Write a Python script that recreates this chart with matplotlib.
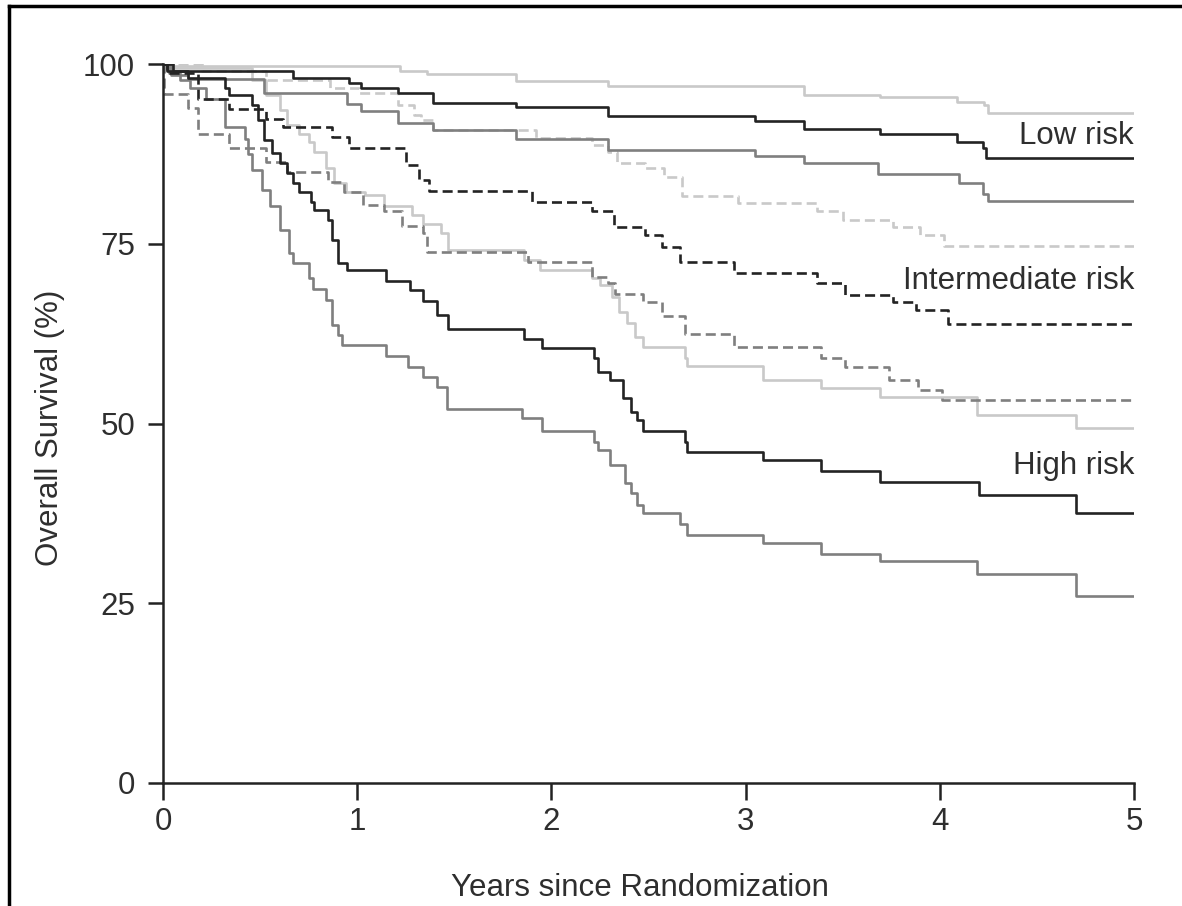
import matplotlib
matplotlib.use('Agg')
import matplotlib.pyplot as plt
from matplotlib.lines import Line2D

plt.rcParams['font.family'] = ['Liberation Sans', 'DejaVu Sans']

# Kaplan-Meier step data (years, % surviving)
low_light_t = [0, 0.03, 1.22, 1.36, 1.82, 2.29, 3.30, 3.69, 4.09, 4.23, 4.25, 5]
low_light_s = [100, 99.7, 99.0, 98.6, 97.7, 96.9, 95.7, 95.4, 94.7, 94.3, 93.2, 93.2]

low_black_t = [0, 0.05, 0.67, 0.96, 1.02, 1.21, 1.39, 1.82, 2.29, 3.05, 3.30, 3.69, 4.09, 4.22, 4.24, 5]
low_black_s = [100, 99.0, 98.0, 97.3, 96.6, 95.9, 94.6, 94.0, 92.8, 92.1, 91.0, 90.2, 89.1, 88.3, 86.9, 86.9]

low_gray_t = [0, 0.04, 0.13, 0.52, 0.95, 1.02, 1.21, 1.39, 1.82, 2.29, 3.05, 3.30, 3.68, 4.10, 4.22, 4.25, 5]
low_gray_s = [100, 98.5, 97.9, 95.9, 94.5, 93.4, 91.8, 90.8, 89.5, 88.1, 87.2, 86.2, 84.7, 83.5, 81.9, 80.9, 80.9]

int_light_t = [0, 0.20, 0.53, 0.86, 1.01, 1.21, 1.29, 1.33, 1.39, 1.92, 2.21, 2.29, 2.34, 2.48,
               2.58, 2.67, 2.96, 3.37, 3.50, 3.76, 3.90, 4.02, 5]
int_light_s = [100, 99.0, 97.8, 96.6, 95.9, 94.3, 92.9, 92.2, 90.8, 89.7, 88.8, 87.8, 86.2, 85.5,
               84.3, 81.7, 80.6, 79.5, 78.3, 77.3, 76.2, 74.7, 74.7]

int_black_t = [0, 0.02, 0.18, 0.34, 0.53, 0.62, 0.87, 0.96, 1.25, 1.32, 1.37, 1.90, 2.21, 2.32,
               2.48, 2.57, 2.66, 2.94, 3.37, 3.51, 3.76, 3.88, 4.04, 5]
int_black_s = [100, 98.7, 95.2, 93.8, 92.4, 91.3, 89.8, 88.3, 86.0, 83.8, 82.4, 80.8, 79.5, 77.3,
               76.2, 74.6, 72.5, 71.0, 69.5, 67.9, 66.9, 65.8, 63.8, 63.8]

int_gray_t = [0, 0.005, 0.13, 0.18, 0.34, 0.53, 0.64, 0.85, 0.93, 1.03, 1.14, 1.23, 1.34, 1.36,
              1.88, 2.21, 2.29, 2.33, 2.47, 2.57, 2.69, 2.94, 3.39, 3.51, 3.74, 3.89, 4.01, 5]
int_gray_s = [100, 95.8, 93.9, 90.2, 88.3, 86.4, 85.0, 83.6, 82.2, 80.4, 79.6, 77.5, 76.5, 73.9,
              72.5, 70.4, 69.5, 68.0, 66.9, 65.0, 62.4, 60.6, 59.1, 57.9, 56.1, 54.7, 53.2, 53.2]

high_light_t = [0, 0.05, 0.46, 0.53, 0.60, 0.64, 0.70, 0.75, 0.78, 0.84, 0.88, 0.94, 1.04, 1.14,
                1.28, 1.34, 1.43, 1.47, 1.86, 1.94, 2.21, 2.25, 2.31, 2.35, 2.39, 2.43, 2.47,
                2.69, 2.70, 3.09, 3.39, 3.69, 4.19, 4.70, 5]
high_light_s = [100, 99.4, 97.8, 95.7, 93.6, 91.5, 90.3, 89.2, 87.8, 85.5, 83.4, 82.2, 81.8, 80.3,
                79.0, 77.8, 76.5, 74.1, 72.8, 71.3, 70.3, 69.3, 67.6, 65.5, 64.0, 62.1, 60.6,
                59.1, 58.0, 56.1, 54.9, 53.7, 51.2, 49.4, 49.4]

high_black_t = [0, 0.02, 0.13, 0.32, 0.34, 0.46, 0.49, 0.52, 0.56, 0.60, 0.64, 0.67, 0.70, 0.76,
                0.78, 0.85, 0.87, 0.90, 0.95, 1.15, 1.27, 1.34, 1.41, 1.47, 1.86, 1.95, 2.22,
                2.24, 2.30, 2.37, 2.41, 2.44, 2.47, 2.69, 2.70, 3.09, 3.39, 3.69, 4.20, 4.70, 5]
high_black_s = [100, 99.0, 98.0, 96.6, 95.7, 94.3, 92.2, 89.4, 87.6, 86.2, 84.8, 83.4, 82.2, 80.8,
                79.7, 78.3, 75.5, 72.3, 71.3, 69.8, 68.6, 67.1, 65.1, 63.2, 61.7, 60.5, 59.1,
                57.2, 56.1, 53.5, 51.6, 50.5, 48.9, 47.4, 46.0, 44.9, 43.4, 41.9, 40.0, 37.6, 37.6]

high_gray_t = [0, 0.03, 0.09, 0.14, 0.22, 0.32, 0.42, 0.44, 0.46, 0.51, 0.55, 0.60, 0.65, 0.67,
               0.75, 0.77, 0.84, 0.87, 0.90, 0.92, 1.15, 1.26, 1.34, 1.41, 1.46, 1.85, 1.95,
               2.22, 2.24, 2.30, 2.38, 2.41, 2.44, 2.47, 2.66, 2.70, 3.09, 3.39, 3.69, 4.19, 4.70, 5]
high_gray_s = [100, 98.8, 97.8, 96.6, 95.2, 91.2, 89.6, 87.5, 85.3, 82.5, 80.2, 76.9, 73.7, 72.3,
               70.2, 68.7, 67.2, 63.7, 62.3, 60.9, 59.4, 57.9, 56.5, 55.1, 52.0, 50.8, 48.9,
               47.4, 46.3, 44.2, 41.7, 40.4, 38.7, 37.5, 36.0, 34.5, 33.4, 31.9, 30.9, 29.1, 26.0, 26.0]

group_labels = ['Low risk', 'Intermediate risk', 'High risk']
label_y = [90.0, 69.8, 44.1]

light = '#c9c9c9'
gray = '#7f7f7f'
black = '#232323'
dash = (0, (3.8, 1.9))

curves = [
    (low_light_t, low_light_s, light, '-'),
    (int_light_t, int_light_s, light, dash),
    (high_light_t, high_light_s, light, '-'),
    (low_gray_t, low_gray_s, gray, '-'),
    (int_gray_t, int_gray_s, gray, dash),
    (high_gray_t, high_gray_s, gray, '-'),
    (low_black_t, low_black_s, black, '-'),
    (int_black_t, int_black_s, black, dash),
    (high_black_t, high_black_s, black, '-'),
]

fig = plt.figure(figsize=(11.82, 9.06), dpi=100)
ax = fig.add_axes([163 / 1182, 1 - 783 / 906, (1134 - 163) / 1182, (783 - 64) / 906])

for t, s, c, ls in curves:
    ax.step(t, s, where='post', color=c, linestyle=ls, lw=1.9)

for lab, y in zip(group_labels, label_y):
    ax.text(5.0, y, lab, ha='right', va='center', fontsize=22.5, color='#2e2e2e')

ax.set_xlim(0, 5)
ax.set_ylim(0, 100)
ax.set_xticks([0, 1, 2, 3, 4, 5])
ax.set_yticks([0, 25, 50, 75, 100])
ax.spines['top'].set_visible(False)
ax.spines['right'].set_visible(False)
for sp in ['left', 'bottom']:
    ax.spines[sp].set_linewidth(1.8)
    ax.spines[sp].set_color('#222222')
ax.tick_params(axis='x', length=12, width=1.8, pad=5, labelsize=22.5, colors='#222222', labelcolor='#2e2e2e')
ax.tick_params(axis='y', length=11, width=1.8, pad=9, labelsize=22.5, colors='#222222', labelcolor='#2e2e2e')

fig.text(640 / 1182, 1 - 888 / 906, 'Years since Randomization', ha='center', va='center',
         fontsize=22.5, color='#2e2e2e')
fig.text(50 / 1182, 1 - 428 / 906, 'Overall Survival (%)', ha='center', va='center',
         rotation=90, fontsize=22.5, color='#2e2e2e')

# frame around the figure (left and top edges visible in the original)
fig.add_artist(Line2D([9 / 1182, 9 / 1182], [0, 1 - 6 / 906], color='black', lw=2.5))
fig.add_artist(Line2D([9 / 1182, 1], [1 - 6 / 906, 1 - 6 / 906], color='black', lw=2.5))

fig.savefig('out.png', dpi=100)
